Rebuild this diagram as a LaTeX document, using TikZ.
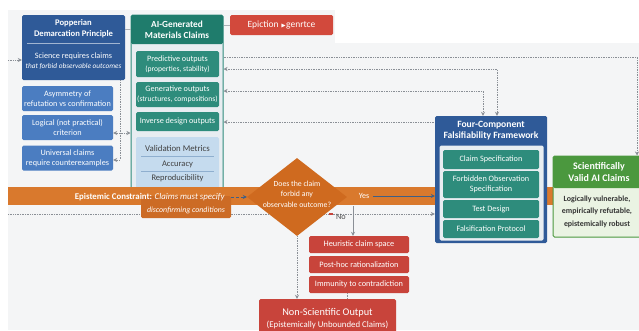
\documentclass[tikz,border=0pt]{standalone}
\usepackage{fontspec}
\setmainfont{Carlito}
\usepackage{amssymb}
\usetikzlibrary{shapes.geometric,arrows.meta}

\definecolor{popblue}{HTML}{2F5A98}
\definecolor{liteblue}{HTML}{4B7DC1}
\definecolor{tealdark}{HTML}{1F7C6C}
\definecolor{tealbox}{HTML}{2E8C7C}
\definecolor{valblue}{HTML}{C5DBEE}
\definecolor{valline}{HTML}{8FAFCF}
\definecolor{redbox}{HTML}{C8443B}
\definecolor{epired}{HTML}{D2493C}
\definecolor{bandor}{HTML}{D9792D}
\definecolor{taborange}{HTML}{CC6B25}
\definecolor{diaor}{HTML}{CF6A1F}
\definecolor{gdark}{HTML}{4B983E}
\definecolor{glite}{HTML}{EAF3E3}
\definecolor{bggray}{HTML}{F4F5F6}
\definecolor{innergray}{HTML}{E8EDF1}
\definecolor{lineg}{HTML}{8A8F96}
\definecolor{arrblue}{HTML}{3E5F86}

\newcommand{\szS}{\fontsize{7.6}{9}\selectfont}
\newcommand{\szM}{\fontsize{8.2}{10}\selectfont}
\newcommand{\szL}{\fontsize{9.3}{11}\selectfont}

\tikzset{
  box/.style={rounded corners=1.5pt, inner sep=1pt, align=center, text=white},
  ttl/.style={font=\bfseries\szL, text=white, align=center},
  txt/.style={font=\szM, align=center},
  sml/.style={font=\szS, align=center},
  dots/.style={lineg, densely dotted, line width=0.7pt},
  tip/.style={-{Stealth[length=4pt,width=4pt]}},
}

\begin{document}
\begin{tikzpicture}[x=1pt,y=-1pt]
\useasboundingbox (0,0) rectangle (639,330);
\fill[bggray] (8,10) rectangle (639,330);
\fill[white] (335,0) rectangle (639,43);

% Popper column
\node[box, fill=popblue, minimum width=103pt, minimum height=65pt] (pop) at (73.5,47.5) {};
\node[ttl, font=\bfseries\fontsize{8.6}{10.8}\selectfont] (popt) at (73.5,29) {Popperian\\Demarcation Principle};
\draw[white!55!popblue] (27,43) -- (120,43);
\node[txt, text=white] (popb) at (73.5,61) {Science requires claims\\[0pt]{\fontsize{7.3}{9}\selectfont\itshape that forbid observable outcomes}};
\foreach \y/\t [count=\i] in {98.5/{Asymmetry of\\refutation vs confirmation},
  127.5/{Logical (not practical)\\criterion},
  158/{Universal claims\\require counterexamples}}
  \node[box, fill=liteblue, minimum width=91pt, minimum height=25pt, txt] (p\i) at (67.5,\y) {\t};

% AI claims column
\node[box, draw=tealbox, line width=1pt, fill=innergray, minimum width=92pt, minimum height=175pt] (ai) at (177,102.5) {};
\node[box, fill=tealdark, minimum width=92pt, minimum height=29pt, ttl] (ait) at (177,29.5) {AI-Generated\\Materials Claims};
\node[box, fill=tealbox, minimum width=83pt, minimum height=26pt, txt] (pred) at (177.5,64) {Predictive outputs\\{\szS (properties, stability)}};
\node[box, fill=tealbox, minimum width=83pt, minimum height=25pt, txt] (gen) at (177.5,94.5) {Generative outputs\\{\szS (structures, compositions)}};
\node[box, fill=tealbox, minimum width=83pt, minimum height=19pt, txt] (inv) at (177.5,121.5) {Inverse design outputs};
\node[box, fill=valblue, minimum width=83pt, minimum height=53pt] (val) at (177.5,163.5) {};
\node[text=black!75, font=\fontsize{8.8}{10}\selectfont] (valt) at (177.5,148) {Validation Metrics};
\draw[valline] (141,156.5) -- (214,156.5);
\node[text=black!75, font=\fontsize{8.5}{10}\selectfont] (acc) at (177.5,164) {Accuracy};
\draw[valline] (141,171) -- (214,171);
\node[text=black!75, font=\fontsize{8.5}{10}\selectfont] (rep) at (177.5,178) {Reproducibility};

\node[box, fill=epired, minimum width=103pt, minimum height=20pt, font=\fontsize{9.5}{11}\selectfont] (epi) at (281.5,25) {Epiction {\fontsize{6}{6}\selectfont$\blacktriangleright$}genrtce};
\draw[lineg!70] (pop.east |- popt) -- (ai.west |- popt);
\draw[lineg!70] (ai.east |- epi) -- (epi.west);

% left links
\coordinate (la) at (8,60);
\draw[dots, tip] (la) -- (la -| pop.west);
\coordinate (lv) at (120,133);
\coordinate (lw) at (120,160);
\draw[dots] (pop.south -| lv) -- (lw);
\draw[dots, {Stealth[length=4pt,width=4pt]}-{Stealth[length=4pt,width=4pt]}] (lv -| p2.east) -- (lv -| ai.west);
\draw[dots, {Stealth[length=4pt,width=4pt]}-] (lw -| p3.east) -- (lw);

% constraint band
\fill[bandor] (8,187) rectangle (553,205);

% framework
\node[box, fill=popblue, minimum width=112pt, minimum height=127pt] (four) at (491,179.5) {};
\node[ttl, font=\bfseries\fontsize{9.6}{11}\selectfont] (fourt) at (491,131) {Four-Component\\Falsifiability Framework};
\node[box, fill=innergray, minimum width=104pt, minimum height=95pt] (fin) at (491.5,193) {};
\foreach \y/\h/\t [count=\i] in {159.5/19/{Claim Specification},
  184.5/27/{Forbidden Observation\\Specification},
  209/18/{Test Design},
  229/18/{Falsification Protocol}}
  \node[box, fill=tealbox, minimum width=96pt, minimum height=\h pt, txt] (f\i) at (491,\y) {\t};

% valid claims
\node[box, draw=gdark, line width=1pt, fill=glite, minimum width=92pt, minimum height=81pt] (sv) at (599,196.5) {};
\node[box, fill=gdark, minimum width=92pt, minimum height=32pt, ttl, font=\bfseries\fontsize{10}{12}\selectfont] (svt) at (599,172) {Scientifically\\Valid AI Claims};
\node[font=\bfseries\fontsize{7.9}{12.5}\selectfont, align=center, text=black!80] (svb) at (597,211.5) {Logically vulnerable,\\empirically refutable,\\epistemically robust};

% feedback links
\coordinate (k0) at (637,57);
\draw[dots, tip] (k0 -| ai.east) -- (k0) -- (k0 |- sv.north);
\coordinate (k1) at (497,69);
\draw[dots, {Stealth[length=4pt,width=4pt]}-{Stealth[length=4pt,width=4pt]}] (k1 -| ai.east) -- (k1) -- (k1 |- four.north);
\coordinate (k2) at (483,91);
\draw[dots, {Stealth[length=4pt,width=4pt]}-{Stealth[length=4pt,width=4pt]}] (k2 -| ai.east) -- (k2) -- (k2 |- four.north);
\coordinate (k3) at (435,122);
\draw[dots, {Stealth[length=4pt,width=4pt]}-] (k3 -| ai.east) -- (k3 -| four.west);

% no-path line
\coordinate (nl) at (8,214);
\draw[dots, tip] (nl) -- (nl -| four.west);

\node[box, fill=taborange, minimum width=90pt, minimum height=22pt] (cond) at (186,207) {};
\node[font=\bfseries\fontsize{8.8}{10}\selectfont, text=white, anchor=east] (ec) at (228,197) {Epistemic Constraint: {\mdseries\itshape\fontsize{8.8}{10}\selectfont Claims must specify}};
\node[font=\itshape\fontsize{7.9}{9}\selectfont, text=white] (dc) at (186,210.5) {disconfirming conditions};

% decision
\node[diamond, fill=diaor, minimum width=100pt, minimum height=78pt, inner sep=0pt] (dia) at (297,197) {};
\node[font=\fontsize{7.8}{10.5}\selectfont, text=white, align=center] (diat) at (297,194) {Does the claim\\forbid any\\observable outcome?};
\draw[arrblue, densely dashed, line width=0.8pt, tip] (cond.east |- dia) -- (dia.west);

\node[font=\fontsize{8}{9}\selectfont, text=white] (yes) at (364,196) {Yes};
\draw[arrblue, line width=0.8pt, tip] (yes.east) -- (four.west |- yes);
\node[font=\szM, text=black!70] (no) at (341,217) {No};
\draw[redbox, line width=1.3pt] (329,214) -- (332.5,214);

% non-scientific branch
\foreach \y/\t [count=\i] in {244.5/{Heuristic claim space},
  264.5/{Post-hoc rationalization},
  284.5/{Immunity to contradiction}}
  \node[box, fill=redbox, minimum width=100pt, minimum height=17pt, font=\fontsize{8.3}{9}\selectfont] (r\i) at (359,\y) {\t};
\coordinate (nv) at (353,206);
\draw[lineg, line width=0.7pt, tip] (nv) -- (nv |- r1.north);

\node[box, fill=redbox, minimum width=137pt, minimum height=42pt] (nso) at (327.5,320) {};
\node[text=white, align=center, font=\fontsize{8.8}{11.5}\selectfont] (nsot) at (327.5,318.5) {{\fontsize{10.3}{11.5}\selectfont Non-Scientific Output}\\(Epistemically Unbounded Claims)};
\draw[dots, tip] (dia.south) -- (nso.north -| dia.south);
\coordinate (ds) at (347,293);
\draw[dots] (ds) -- (ds |- nso.north);
\end{tikzpicture}
\end{document}
